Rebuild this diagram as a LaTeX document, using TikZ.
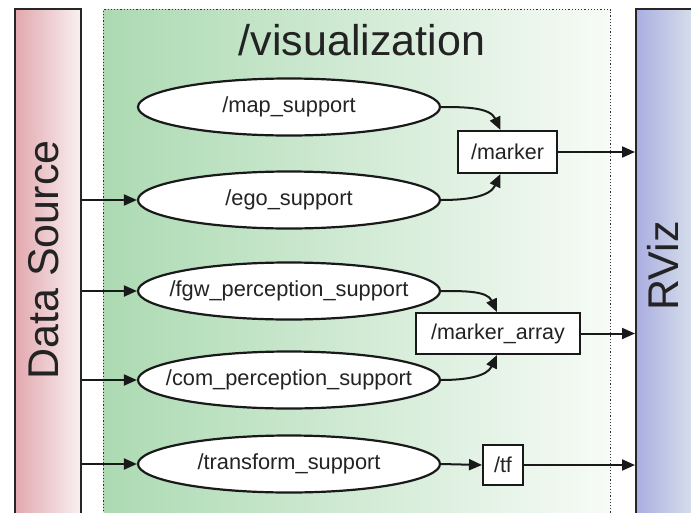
\documentclass[tikz,border=0pt]{standalone}
\usepackage{fontspec}
\setmainfont{Liberation Sans}
\usetikzlibrary{shapes.geometric,arrows.meta,calc}
\definecolor{txt}{RGB}{35,35,35}
\definecolor{pinkL}{RGB}{226,168,174}
\definecolor{pinkR}{RGB}{248,240,242}
\definecolor{greenL}{RGB}{172,218,178}
\definecolor{greenR}{RGB}{247,251,247}
\definecolor{blueL}{RGB}{170,174,224}
\definecolor{blueR}{RGB}{232,242,240}
\tikzset{
  bar/.style={draw=black!85, line width=2pt, inner sep=0pt, anchor=north west},
  bigtext/.style={text=txt, font=\fontsize{43}{50}\selectfont},
  topic/.style={ellipse, draw=black!90, line width=2.2pt, fill=white, minimum width=302pt, minimum height=57pt, inner xsep=-30pt, inner ysep=0pt, text=txt, font=\fontsize{21.8}{24}\selectfont},
  msgbox/.style={rectangle, draw=black!90, line width=2pt, fill=white, inner sep=0pt, text=txt, font=\fontsize{21.5}{24}\selectfont},
  arr/.style={line width=2pt, draw=black!90, -{Triangle[length=13pt,width=11pt]}},
}
\begin{document}
\begin{tikzpicture}[x=1pt,y=-1pt]
\clip (0,0) rectangle (691,512);
\fill[white] (0,0) rectangle (691,512);
% Data Source bar
\node[bar, left color=pinkL, right color=pinkR, minimum width=66pt, minimum height=540pt] (ds) at (14,8) {};
\node[bigtext, rotate=90, anchor=base] (dslabel) at (58,260) {Data Source};
% visualization group
\node[draw=black!80, dotted, line width=1.2pt, left color=greenL, right color=greenR, minimum width=507pt, minimum height=540pt, inner sep=0pt, anchor=north west] (vis) at (103,9) {};
\node[bigtext, anchor=base] (title) at (362,55) {/visualization};
% RViz bar
\node[bar, left color=blueL, right color=blueR, minimum width=80pt, minimum height=540pt] (rviz) at (635,8) {};
\node[bigtext, rotate=90, anchor=base] (rvizlabel) at (678,266) {RViz};
% topics
\node[topic] (map) at (289,107) {/map\_support};
\node[topic] (ego) at (289,200) {/ego\_support};
\node[topic] (fgw) at (289,291) {/fgw\_perception\_support};
\node[topic] (com) at (289,380) {/com\_perception\_support};
\node[topic] (tfs) at (289,464) {/transform\_support};
% messages
\node[msgbox, minimum width=99pt, minimum height=42pt] (marker) at (507.5,152) {/marker};
\node[msgbox, minimum width=164pt, minimum height=41pt] (marr) at (498,333.5) {/marker\_array};
\node[msgbox, minimum width=40pt, minimum height=40pt] (tf) at (503,465) {/tf};
% inputs
\draw[arr] (ego.west -| ds.east) -- (ego.west);
\draw[arr] (fgw.west -| ds.east) -- (fgw.west);
\draw[arr] (com.west -| ds.east) -- (com.west);
\draw[arr] (tfs.west -| ds.east) -- (tfs.west);
% curves
\draw[arr] (map.east) to[out=0,in=115] ([xshift=-7pt]marker.north);
\draw[arr] (ego.east) to[out=0,in=-115] ([xshift=-7pt]marker.south);
\draw[arr] (fgw.east) to[out=0,in=115] ([xshift=-1pt]marr.north);
\draw[arr] (com.east) to[out=0,in=-115] ([xshift=-1pt]marr.south);
\draw[arr] (tfs.east) -- (tf.west);
% outputs
\draw[arr] (marker.east) -- (marker.east -| rviz.west);
\draw[arr] (marr.east) -- (marr.east -| rviz.west);
\draw[arr] (tf.east) -- (tf.east -| rviz.west);
\end{tikzpicture}
\end{document}
